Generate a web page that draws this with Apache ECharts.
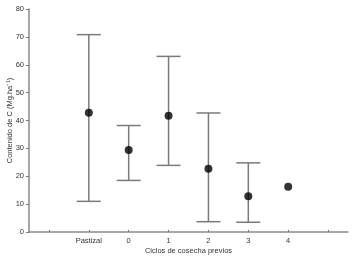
<!DOCTYPE html>
<html>
<head>
<meta charset="utf-8">
<script src="https://cdn.jsdelivr.net/npm/echarts@6/dist/echarts.min.js"></script>
<style>html,body{margin:0;padding:0;background:#fff}#c{width:354px;height:261px}</style>
</head>
<body>
<div id="c"></div>
<script>
var categories = ['', 'Pastizal', '0', '1', '2', '3', '4', ''];
var means = [null, 42.8, 29.4, 41.7, 22.7, 12.8, 16.2, null];
var upper = [null, 70.8, 38.2, 63.0, 42.7, 24.8, null, null];
var lower = [null, 11.0, 18.5, 23.9, 3.7, 3.5, null, null];
var yTicks = [0, 10, 20, 30, 40, 50, 60, 70, 80];

var errData = [];
for (var i = 0; i < categories.length; i++) {
  if (upper[i] != null && lower[i] != null) errData.push([i, lower[i], upper[i]]);
}
var meanData = [];
for (var j = 0; j < categories.length; j++) {
  if (means[j] != null) meanData.push([j, means[j]]);
}

var chart = echarts.init(document.getElementById('c'), null, {renderer: 'canvas'});
var font = 'Liberation Sans, Arial, sans-serif';
var axisColor = '#8a8a8a';
chart.setOption({
  animation: false,
  grid: {left: 29, right: 6, top: 9, bottom: 29, containLabel: false, outerBoundsMode: 'none'},
  xAxis: {
    type: 'category',
    data: categories,
    boundaryGap: true,
    name: 'Ciclos de cosecha previos',
    nameLocation: 'middle',
    nameGap: 15,
    nameMoveOverlap: false,
    nameTextStyle: {fontSize: 7.5, color: '#333', fontFamily: font},
    axisLine: {lineStyle: {color: axisColor, width: 1.5}},
    axisTick: {show: true, alignWithLabel: true, inside: true, length: 2, interval: 0, lineStyle: {color: '#777'}},
    axisLabel: {interval: 0, fontSize: 7.5, color: '#333', margin: 5, fontFamily: font},
    splitLine: {show: false}
  },
  yAxis: {
    type: 'value',
    min: yTicks[0],
    max: yTicks[yTicks.length - 1],
    interval: 10,
    name: 'Contenido de C (Mg.ha\u207B\u00B9)',
    nameLocation: 'middle',
    nameGap: 15,
    nameMoveOverlap: false,
    nameTextStyle: {fontSize: 7.5, color: '#333', fontFamily: font},
    axisLine: {show: true, lineStyle: {color: axisColor, width: 1.5}},
    axisTick: {show: true, length: 3, lineStyle: {color: '#777'}},
    axisLabel: {fontSize: 7.5, color: '#333', margin: 5, fontFamily: font},
    splitLine: {show: false}
  },
  series: [
    {
      type: 'custom',
      data: errData,
      renderItem: function (params, api) {
        var x = api.value(0);
        var lo = api.coord([x, api.value(1)]);
        var hi = api.coord([x, api.value(2)]);
        var hw = 12;
        var st = {stroke: '#7a7a7a', lineWidth: 1.5, fill: null};
        return {
          type: 'group',
          children: [
            {type: 'line', shape: {x1: lo[0], y1: lo[1], x2: hi[0], y2: hi[1]}, style: st},
            {type: 'line', shape: {x1: hi[0] - hw, y1: hi[1], x2: hi[0] + hw, y2: hi[1]}, style: st},
            {type: 'line', shape: {x1: lo[0] - hw, y1: lo[1], x2: lo[0] + hw, y2: lo[1]}, style: st}
          ]
        };
      },
      z: 1
    },
    {
      type: 'scatter',
      data: meanData,
      symbol: 'circle',
      symbolSize: 8,
      itemStyle: {color: '#000'},
      z: 3
    }
  ]
});
</script>
</body>
</html>
